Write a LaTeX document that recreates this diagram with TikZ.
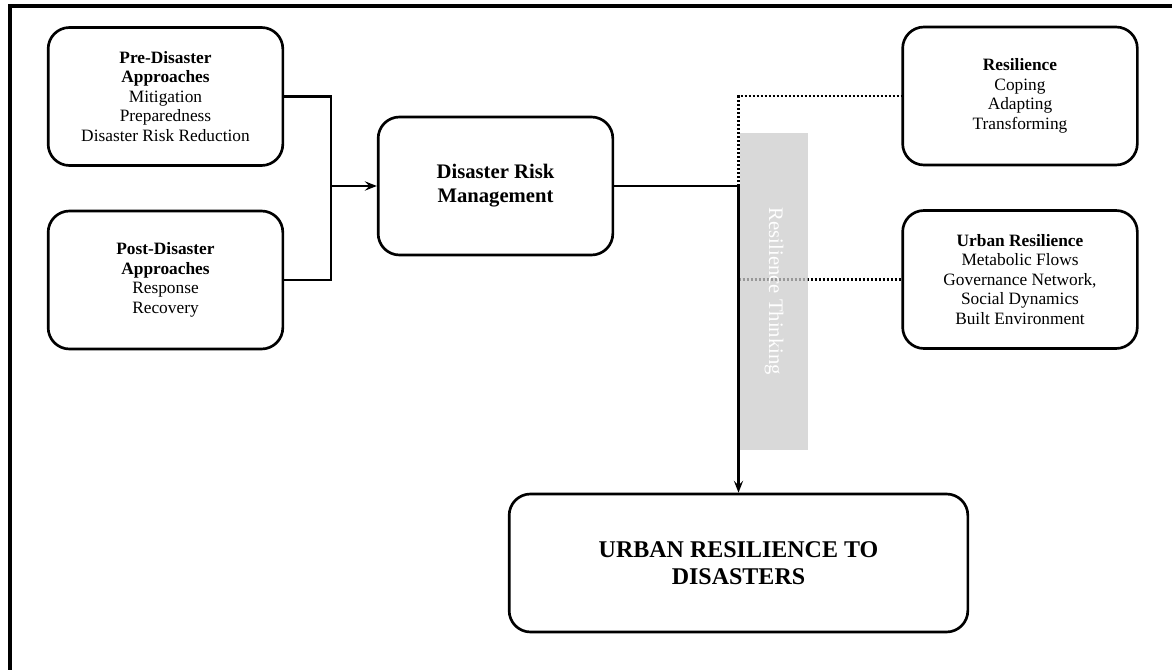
\documentclass[tikz,border=0pt]{standalone}
\usepackage{fontspec}
\setmainfont{Liberation Serif}
\usetikzlibrary{arrows.meta}
\definecolor{barfill}{RGB}{204,204,204}
\begin{document}
\begin{tikzpicture}[x=0.75pt,y=-0.75pt,
  box/.style={draw, line width=2pt, rounded corners=16pt, align=center,
    inner sep=0pt, font=\fontsize{13}{14.6}\selectfont},
  smallbox/.style={box, minimum width=176pt, minimum height=103.5pt},
  link/.style={line width=1.6pt},
  dotlink/.style={line width=2pt, dash pattern=on 1.8pt off 1.2pt},
  arr/.style={-{Stealth[length=9pt,width=7pt,inset=3.5pt]}}
]
\useasboundingbox (0,0) rectangle (1172,670);

% outer frame (left and top edges)
\draw[line width=2.6pt] (10,675) -- (10,6) -- (1180,6);

% boxes
\node[smallbox] (pre) at (165.5,96.5)
  {\textbf{Pre-Disaster}\\\textbf{Approaches}\\Mitigation\\Preparedness\\Disaster Risk Reduction};
\node[smallbox] (post) at (165.5,280)
  {\textbf{Post-Disaster}\\\textbf{Approaches}\\Response\\Recovery};
\node[smallbox, font=\fontsize{15.5}{18}\selectfont\bfseries] (drm) at (495.5,186)
  {Disaster Risk\\Management};
\node[smallbox] (res) at (1020,96)
  {\textbf{Resilience}\\Coping\\Adapting\\Transforming};
\node[smallbox] (ures) at (1020,279.5)
  {\textbf{Urban Resilience}\\Metabolic Flows\\Governance Network,\\Social Dynamics\\Built Environment};
\node[box, minimum width=344pt, minimum height=103.5pt,
  font=\fontsize{18}{20}\selectfont\bfseries] (urd) at (738.5,563)
  {URBAN RESILIENCE TO\\DISASTERS};

% connectors
\coordinate (jl) at (331,186);
\draw[link] (pre.east) -| (jl) |- (post.east);
\draw[link,arr] (jl) -- (drm.west);
\draw[link,arr] (drm.east) -| (urd.north);
\draw[dotlink] (drm.east -| urd.north) |- (res.west);
\draw[dotlink] (ures.west -| urd.north) -- (ures.west);

% translucent band with vertical label
\node[rotate=-90, fill=barfill, fill opacity=0.75, text opacity=1, text=white,
  minimum width=238pt, minimum height=51pt, inner sep=0pt,
  font=\fontsize{15.5}{18}\selectfont] (band) at (774,291.5) {Resilience Thinking};
\end{tikzpicture}
\end{document}
